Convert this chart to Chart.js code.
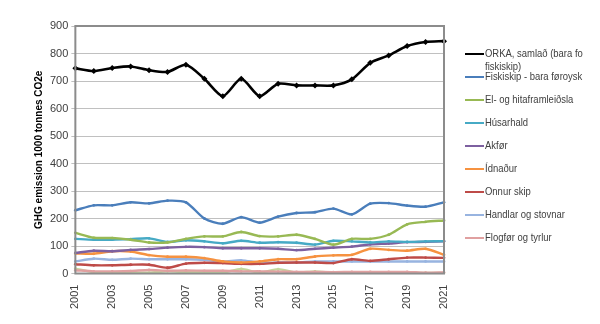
<!DOCTYPE html>
<html>
<head>
<meta charset="utf-8">
<script src="https://cdn.jsdelivr.net/npm/chart.js@4/dist/chart.umd.min.js"></script>
<style>
  html, body { margin: 0; padding: 0; background: #fff; }
  #wrap { position: relative; width: 600px; height: 324px; }
  #legend { position: absolute; left: 465px; top: 0; font: 11px "Liberation Sans", Arial, sans-serif; color: #404040; }
  .item { position: absolute; left: 0; white-space: nowrap; line-height: 13px; }
  .swatch { position: absolute; left: 0; width: 19px; height: 0; }
  .txt { position: absolute; left: 20px; transform: scaleX(0.86); transform-origin: 0 0; }
</style>
</head>
<body>
<div id="wrap">
  <canvas id="chart" width="600" height="324"></canvas>
  <div id="legend"></div>
</div>
<script>
const years = ["2001", "2002", "2003", "2004", "2005", "2006", "2007", "2008", "2009", "2010",
  "2011", "2012", "2013", "2014", "2015", "2016", "2017", "2018", "2019", "2020", "2021"];

const orka = [746, 736, 747, 753, 739, 733, 759, 708, 645, 708, 645, 690, 684, 684, 684, 706, 766, 793, 827, 842, 845];
const fiskiskip = [230, 248, 248, 259, 255, 265, 259, 200, 181, 205, 185, 207, 220, 223, 236, 215, 254, 256, 247, 243, 259];
const elHiti = [148, 130, 129, 123, 113, 113, 126, 135, 135, 151, 136, 135, 141, 126, 105, 126, 126, 141, 179, 188, 193];
const husarhald = [126, 123, 123, 125, 128, 115, 121, 117, 110, 119, 112, 114, 112, 105, 119, 117, 113, 117, 115, 117, 118];
const akfor = [75, 83, 81, 86, 89, 94, 97, 96, 92, 92, 92, 90, 85, 90, 94, 98, 106, 109, 114, 115, 117];
const idnadur = [73, 72, 81, 80, 67, 61, 61, 56, 44, 40, 44, 52, 52, 62, 66, 68, 90, 86, 83, 90, 68];
const onnurSkip = [34, 30, 30, 32, 32, 21, 36, 39, 38, 35, 35, 39, 40, 40, 38, 52, 46, 52, 58, 58, 57];
const handlar = [44, 54, 50, 54, 52, 52, 52, 50, 44, 48, 40, 40, 40, 44, 44, 44, 44, 44, 44, 44, 44];
const flogfor = [12, 8, 8, 9, 13, 10, 11, 10, 10, 8, 8, 7, 6, 6, 5, 6, 6, 6, 6, 3, 4];
const annad = [18, 5, 5, 3, 3, 8, 5, 5, 3, 17, 3, 16, 3, 8, 2, 2, 2, 2, 2, 2, 2];

const yTicks = [0, 100, 200, 300, 400, 500, 600, 700, 800, 900];

const series = [
  { label: "ORKA, samlað (bara fo\nfiskiskip)", data: orka, color: "#000000", width: 2.6, legend: true },
  { label: "Fiskiskip - bara føroysk", data: fiskiskip, color: "#4a7ebb", width: 2.4, legend: true },
  { label: "El- og hitaframleiðsla", data: elHiti, color: "#98b954", width: 2.4, legend: true },
  { label: "Húsarhald", data: husarhald, color: "#46aac5", width: 2.4, legend: true },
  { label: "Akfør", data: akfor, color: "#7d60a0", width: 2.4, legend: true },
  { label: "Ídnaður", data: idnadur, color: "#f69240", width: 2.4, legend: true },
  { label: "Onnur skip", data: onnurSkip, color: "#be4b48", width: 2.4, legend: true },
  { label: "Handlar og stovnar", data: handlar, color: "#98b4e0", width: 2.4, legend: true },
  { label: "Flogfør og tyrlur", data: flogfor, color: "#e0a0a0", width: 2.4, legend: true },
  { label: "Annað", data: annad, color: "#c4d79e", width: 2.4, legend: false },
];

// grey frame round the plot area
const frame = {
  id: "frame",
  afterDraw(chart) {
    const a = chart.chartArea;
    const ctx = chart.ctx;
    ctx.save();
    ctx.strokeStyle = "#8c8c8c";
    ctx.lineWidth = 2;
    ctx.strokeRect(a.left, a.top, a.right - a.left, a.bottom - a.top);
    ctx.restore();
  },
};

new Chart(document.getElementById("chart"), {
  type: "line",
  data: {
    labels: years,
    datasets: series.map((s, i) => ({
      label: s.label,
      data: s.data,
      borderColor: s.color,
      backgroundColor: s.color,
      borderWidth: s.width,
      tension: 0.25,
      pointStyle: i === 0 ? "rectRot" : "circle",
      pointRadius: i === 0 ? 3 : 1.4,
      pointBorderWidth: 0,
    })),
  },
  options: {
    responsive: false,
    animation: false,
    layout: { padding: { top: 26, right: 156, left: 33, bottom: 12 } },
    plugins: { legend: { display: false }, tooltip: { enabled: false } },
    scales: {
      x: {
        offset: false,
        grid: { display: false },
        border: { color: "#8c8c8c", width: 1 },
        ticks: {
          autoSkip: false,
          minRotation: 90,
          maxRotation: 90,
          color: "#404040",
          font: { family: "Liberation Sans", size: 11 },
          callback: (v, i) => (i % 2 === 0 ? years[i] : ""),
        },
      },
      y: {
        min: yTicks[0],
        max: yTicks[yTicks.length - 1],
        afterBuildTicks: (axis) => { axis.ticks = yTicks.map((v) => ({ value: v })); },
        grid: { color: "#c0c0c0", lineWidth: 1, drawTicks: true, tickLength: 4 },
        border: { color: "#8c8c8c", width: 1 },
        ticks: { color: "#404040", font: { family: "Liberation Sans", size: 11 }, padding: 3 },
        title: {
          display: true,
          text: "GHG emission 1000 tonnes CO2e",
          color: "#000",
          font: { family: "Liberation Sans", size: 10, weight: "bold" },
          padding: { top: 0, bottom: 2 },
        },
      },
    },
  },
  plugins: [frame],
});

// legend at the right, one row per series
const legendEl = document.getElementById("legend");
const rowTops = [47, 70, 93, 116, 139, 162, 185, 208, 231];
series.filter((s) => s.legend).forEach((s, i) => {
  const item = document.createElement("div");
  item.className = "item";
  item.style.top = rowTops[i] + "px";
  const sw = document.createElement("div");
  sw.className = "swatch";
  sw.style.top = "6px";
  sw.style.borderTop = `${i === 0 ? 2.5 : 2}px solid ${s.color}`;
  const txt = document.createElement("div");
  txt.className = "txt";
  txt.innerHTML = s.label.split("\n").join("<br>");
  item.appendChild(sw);
  item.appendChild(txt);
  legendEl.appendChild(item);
});
</script>
</body>
</html>
